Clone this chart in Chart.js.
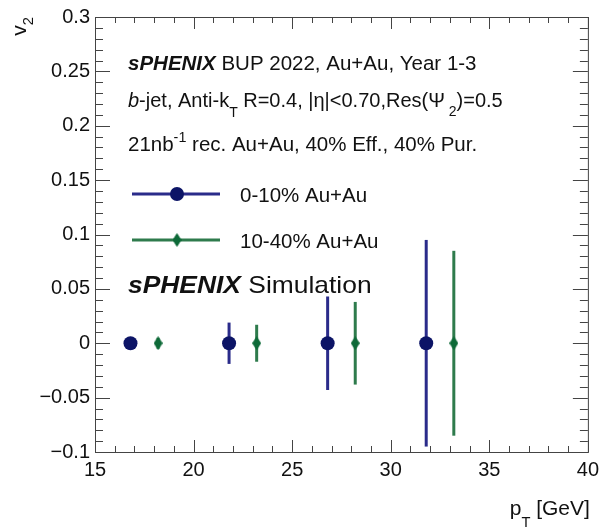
<!DOCTYPE html>
<html>
<head>
<meta charset="utf-8">
<script src="https://cdn.jsdelivr.net/npm/chart.js@4"></script>
<style>
html, body { margin: 0; padding: 0; background: #fff; }
#wrap { width: 605px; height: 528px; }
</style>
</head>
<body>
<div id="wrap"><canvas id="chart"></canvas></div>
<script>
const FONT = '"Liberation Sans", Arial, sans-serif';

// 0-10% centrality
const ptCentral = [16.8, 21.8, 26.8, 31.8];
const v2Central = [0, 0, 0, 0];
const errCentral = [0.005, 0.019, 0.043, 0.095];

// 10-40% centrality
const ptMid = [18.2, 23.2, 28.2, 33.2];
const v2Mid = [0, 0, 0, 0];
const errMid = [0.005, 0.017, 0.038, 0.085];

const seriesLabels = ["0-10% Au+Au", "10-40% Au+Au"];
const xTicks = [15, 20, 25, 30, 35, 40];
const yTicks = [-0.1, -0.05, 0, 0.05, 0.1, 0.15, 0.2, 0.25, 0.3];

const BLUE = "#0c1466";
const BLUE_BAR = "#2a2b8a";
const GREEN = "#0e6a38";
const GREEN_BAR = "#2e7b4c";

function diamond(w, h, color) {
    const c = document.createElement("canvas");
    c.width = w;
    c.height = h;
    const g = c.getContext("2d");
    g.fillStyle = color;
    g.beginPath();
    g.moveTo(w / 2, 0);
    g.lineTo(w, h / 2);
    g.lineTo(w / 2, h);
    g.lineTo(0, h / 2);
    g.closePath();
    g.fill();
    return c;
}

// draws a line of text made of styled pieces, returns its width
// part = [text, style, optional drop as fraction of size]
function richText(ctx, x, y, parts, size, sx = 1, measureOnly = false) {
    ctx.save();
    ctx.translate(x, y);
    ctx.scale(sx, 1);
    let cx = 0;
    parts.forEach(([t, s, drop]) => {
        let fs = size, dy = 0, style = "";
        if (s === "sub") { fs = size * 0.7; dy = size * (drop || 0.32); }
        if (s === "sup") { fs = size * 0.7; dy = -size * 0.42; }
        if (s === "b") style = "italic bold ";
        if (s === "i") style = "italic ";
        ctx.font = style + fs + "px " + FONT;
        if (!measureOnly) ctx.fillText(t, cx, dy);
        cx += ctx.measureText(t).width;
    });
    ctx.restore();
    return cx * sx;
}

const errorBars = {
    id: "errorBars",
    beforeDatasetsDraw(chart) {
        const { ctx, scales: { x, y } } = chart;
        chart.data.datasets.forEach(ds => {
            ctx.save();
            ctx.strokeStyle = ds.barColor;
            ctx.lineWidth = 3;
            ds.data.forEach((p, i) => {
                const px = x.getPixelForValue(p.x);
                ctx.beginPath();
                ctx.moveTo(px, y.getPixelForValue(p.y - ds.errors[i]));
                ctx.lineTo(px, y.getPixelForValue(p.y + ds.errors[i]));
                ctx.stroke();
            });
            ctx.restore();
        });
    }
};

// ROOT style frame with inward ticks on all four sides
const frame = {
    id: "frame",
    afterDatasetsDraw(chart) {
        const { ctx, chartArea: a, scales: { x, y } } = chart;
        ctx.save();
        ctx.strokeStyle = "#444";
        ctx.lineWidth = 1;
        ctx.strokeRect(a.left + 0.5, a.top + 0.5, a.right - a.left, a.bottom - a.top);
        ctx.beginPath();
        for (let v = x.min; v <= x.max; v++) {
            const px = Math.round(x.getPixelForValue(v)) + 0.5;
            const len = v % 5 === 0 ? 12 : 6;
            ctx.moveTo(px, a.bottom); ctx.lineTo(px, a.bottom - len);
            ctx.moveTo(px, a.top); ctx.lineTo(px, a.top + len);
        }
        for (let i = -10; i <= 30; i++) {
            const py = Math.round(y.getPixelForValue(i / 100)) + 0.5;
            const len = i % 5 === 0 ? 15 : 8;
            ctx.moveTo(a.left, py); ctx.lineTo(a.left + len, py);
            ctx.moveTo(a.right, py); ctx.lineTo(a.right - len, py);
        }
        ctx.stroke();
        ctx.restore();
    },
    afterDraw(chart) {
        const { ctx, chartArea: a } = chart;
        ctx.save();
        ctx.fillStyle = "#111";
        ctx.textBaseline = "alphabetic";

        // annotation lines
        richText(ctx, 128, 70, [["sPHENIX", "b"], [" BUP 2022, Au+Au, Year 1-3", "n"]], 20.5);
        richText(ctx, 128, 107, [["b", "i"], ["-jet, Anti-k", "n"], ["T", "sub", 0.5],
            [" R=0.4, |\u03b7|<0.70,Res(\u03a8", "n"], [" 2", "sub", 0.45], [")=0.5", "n"]], 20);
        richText(ctx, 128, 151, [["21nb", "n"], ["-1", "sup"], [" rec. Au+Au, 40% Eff., 40% Pur.", "n"]], 20.5);

        // legend
        const ds = chart.data.datasets;
        [194, 240].forEach((ly, k) => {
            ctx.strokeStyle = ds[k].barColor;
            ctx.lineWidth = 3;
            ctx.beginPath();
            ctx.moveTo(132, ly); ctx.lineTo(220, ly);
            ctx.stroke();
            if (k === 0) {
                ctx.fillStyle = BLUE;
                ctx.beginPath();
                ctx.arc(177, ly, ds[0].pointRadius, 0, Math.PI * 2);
                ctx.fill();
            } else {
                const img = ds[1].pointStyle;
                ctx.drawImage(img, 177 - img.width / 2, ly - img.height / 2);
            }
            ctx.fillStyle = "#111";
            richText(ctx, 240, ly + 7.5, [[seriesLabels[k], "n"]], 20.5);
        });

        richText(ctx, 128, 293, [["sPHENIX", "b"], [" Simulation", "n"]], 24, 1.1);

        // axis titles
        const xt = [["p", "n"], ["T", "sub", 0.55], [" [GeV]", "n"]];
        const xw = richText(ctx, 0, 0, xt, 21, 1, true);
        richText(ctx, a.right + 2 - xw, 515, xt, 21);

        const yt = [["v", "n"], ["2", "sub", 0.35]];
        const yw = richText(ctx, 0, 0, yt, 21, 1, true);
        ctx.translate(26, 17);
        ctx.rotate(-Math.PI / 2);
        richText(ctx, -yw, 0, yt, 21);
        ctx.restore();
    }
};

const fmt = v => {
    const s = String(Math.round(v * 100) / 100);
    return s.replace("-", "\u2212");
};

new Chart(document.getElementById("chart"), {
    type: "scatter",
    data: {
        datasets: [
            {
                label: seriesLabels[0],
                data: ptCentral.map((x, i) => ({ x, y: v2Central[i] })),
                errors: errCentral,
                barColor: BLUE_BAR,
                backgroundColor: BLUE,
                borderColor: BLUE,
                pointStyle: "circle",
                pointRadius: 7,
                pointHoverRadius: 7,
                borderWidth: 0
            },
            {
                label: seriesLabels[1],
                data: ptMid.map((x, i) => ({ x, y: v2Mid[i] })),
                errors: errMid,
                barColor: GREEN_BAR,
                backgroundColor: GREEN,
                borderColor: GREEN,
                pointStyle: diamond(9, 14, GREEN),
                pointRadius: 7,
                borderWidth: 0
            }
        ]
    },
    options: {
        responsive: true,
        maintainAspectRatio: false,
        animation: false,
        events: [],
        layout: { padding: { left: 0, top: 15, right: 12, bottom: 0 } },
        plugins: { legend: { display: false }, tooltip: { enabled: false } },
        scales: {
            x: {
                type: "linear",
                min: 15,
                max: 40,
                afterBuildTicks: s => { s.ticks = xTicks.map(value => ({ value })); },
                afterFit: s => { s.height = 76; },
                grid: { display: false, drawTicks: false },
                border: { display: false },
                ticks: { color: "#111", padding: 6, maxRotation: 0, font: { family: FONT, size: 20 }, callback: fmt }
            },
            y: {
                type: "linear",
                min: -0.1,
                max: 0.3,
                afterBuildTicks: s => { s.ticks = yTicks.map(value => ({ value })); },
                afterFit: s => { s.width = 95; },
                grid: { display: false, drawTicks: false },
                border: { display: false },
                ticks: { color: "#111", padding: 5, font: { family: FONT, size: 20 }, callback: fmt }
            }
        }
    },
    plugins: [errorBars, frame]
});
</script>
</body>
</html>
